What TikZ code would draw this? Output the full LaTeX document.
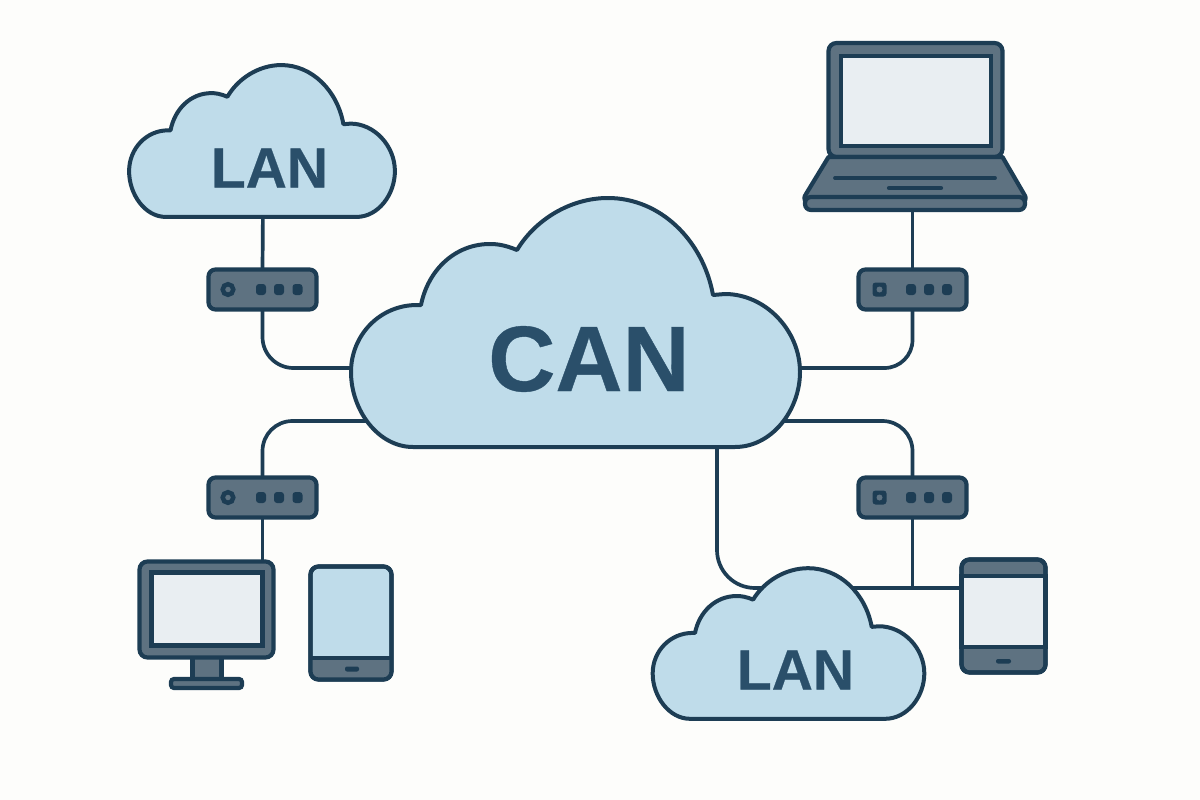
\documentclass[tikz,border=0pt]{standalone}
\usepackage{fontspec}
\setmainfont{Liberation Sans}[BoldFeatures={FakeBold=0.4}]
\usepackage{xcolor}
\definecolor{inkdark}{HTML}{1D3D54}
\definecolor{textblue}{HTML}{2A4F6A}
\definecolor{cloudblue}{HTML}{BFDCEA}
\definecolor{devgrey}{HTML}{5E7281}
\definecolor{screenlight}{HTML}{E9EEF2}
\definecolor{paper}{HTML}{FDFDFB}
\tikzset{
  wire/.style={draw=inkdark, line width=3.7pt},
  devicebox/.style={draw=inkdark, line width=4.2pt, fill=devgrey, rounded corners=8pt, inner sep=0pt, outer sep=0pt},
  screenbox/.style={draw=inkdark, line width=4.2pt, fill=screenlight, inner sep=0pt, outer sep=0pt},
  routerbox/.style={devicebox, rounded corners=7pt, minimum width=108pt, minimum height=40pt},
  portdot/.style={fill=inkdark, rounded corners=3pt},
  keyline/.style={draw=inkdark, line width=3.8pt, line cap=round},
  cloudshape/.pic={
    \draw[draw=inkdark, line width=4pt, fill=cloudblue, line join=round]
      (-162.5,124.5) -- (159.5,124.5)
      .. controls (196.5,124.5) and (224.5,87.5) .. (224.5,49.5)
      .. controls (224.5,7.5) and (189.5,-28.5) .. (149.5,-28.5)
      -- (137.5,-27.5)
      .. controls (127.5,-82.5) and (84.5,-124.5) .. (32.5,-124.5)
      .. controls (-5.5,-124.5) and (-40.5,-102.5) .. (-58.5,-72.5)
      .. controls (-70.5,-77.5) and (-78.5,-78.5) .. (-85.5,-78.5)
      .. controls (-120.5,-78.5) and (-147.5,-52.5) .. (-154.5,-17.5)
      -- (-158.5,-17.5)
      .. controls (-195.5,-17.5) and (-224.5,12.5) .. (-224.5,49.5)
      .. controls (-224.5,87.5) and (-197.5,124.5) .. (-162.5,124.5) -- cycle;
  }
}
\begin{document}
\begin{tikzpicture}[x=1pt, y=-1pt]
\fill[paper] (0,0) rectangle (1200,800);
\useasboundingbox (0,0) rectangle (1200,800);

% Routers
\foreach \name/\cx/\cy in {routera/262.5/289.5, routerb/912.5/289.5, routerc/262.5/497.5, routerd/912.5/497.5}
  \node[routerbox] (\name) at (\cx,\cy) {};
\foreach \cx/\cy in {262.5/289.5, 262.5/497.5} {
  \draw[draw=inkdark, line width=4.5pt, fill=devgrey] (\cx-34.5,\cy) circle (5.3);
  \foreach \dx in {-1.5,16.5,35}
    \fill[portdot] (\cx+\dx-5,\cy-5.5) rectangle (\cx+\dx+5,\cy+5.5);
}
\foreach \cx/\cy in {912.5/289.5, 912.5/497.5} {
  \fill[inkdark, rounded corners=3pt] (\cx-40,\cy-7) rectangle (\cx-26,\cy+7);
  \fill[devgrey] (\cx-33,\cy) circle (3);
  \foreach \dx in {-1.5,16.5,34.5}
    \fill[portdot] (\cx+\dx-5,\cy-5.5) rectangle (\cx+\dx+5,\cy+5.5);
}

% Laptop
\node[devicebox, minimum width=174pt, minimum height=114pt] (laptoplid) at (915.5,100) {};
\node[screenbox, minimum width=150pt, minimum height=90pt] (laptopscreen) at (916,101) {};
\draw[draw=inkdark, line width=4.2pt, fill=devgrey, line join=round]
  (laptoplid.south west) -- (806,194) .. controls (804,197) and (804,199) .. (805,201)
  -- (1025,201) .. controls (1026,199) and (1026,197) .. (1024,194) -- (laptoplid.south east) -- cycle;
\node[devicebox, rounded corners=6pt, minimum width=220pt, minimum height=13pt] (laptopbase) at (915,203.5) {};
\draw[keyline] (835,178) -- (995,178);
\draw[keyline, line width=4.2pt] (889,188) -- (941,188);

% Monitor and tablet on the left
\node[devicebox, minimum width=29pt, minimum height=22pt, rounded corners=0pt] (monitorneck) at (207,668) {};
\node[devicebox, rounded corners=3pt, minimum width=71pt, minimum height=9pt] (monitorfoot) at (206.5,683.5) {};
\node[devicebox, minimum width=134pt, minimum height=96pt] (monitor) at (206.5,609.5) {};
\node[screenbox, minimum width=111pt, minimum height=73pt] (monitorscreen) at (207,609) {};
\node[devicebox, fill=cloudblue, minimum width=81pt, minimum height=113pt] (tableta) at (351,623) {};
\begin{scope}
  \clip[rounded corners=7pt] (310.7,566.7) rectangle (391.3,679.3);
  \fill[devgrey] (310,658) rectangle (392,680);
\end{scope}
\draw[draw=inkdark, line width=4.2pt, rounded corners=8pt] (tableta.south west) rectangle (tableta.north east);
\draw[draw=inkdark, line width=4.2pt] (tableta.west |- 0,658) -- (tableta.east |- 0,658);
\fill[inkdark, rounded corners=2pt] (345,666.5) rectangle (359,671.5);

% Tablet on the right
\node[devicebox, minimum width=84pt, minimum height=113pt] (tabletb) at (1003.5,616) {};
\node[screenbox, minimum width=84pt, minimum height=71pt] (tabletscreen) at (1003.5,611.5) {};
\draw[draw=inkdark, line width=4.2pt, rounded corners=8pt] (tabletb.south west) rectangle (tabletb.north east);
\fill[inkdark, rounded corners=2pt] (996,659) rectangle (1011,663.5);

% Ends of the wires under the clouds
\coordinate (lanaout) at (263,205);
\coordinate (canwesta) at (365,368);
\coordinate (caneasta) at (785,368);
\coordinate (canwestb) at (380,421);
\coordinate (caneastb) at (770,421);
\coordinate (cansouth) at (717,440);
\coordinate (lanbwest) at (780,588);
\coordinate (lanbeast) at (850,588);

% Wires
\draw[wire] (lanaout) -- (routera.north);
\draw[wire, rounded corners=31pt] (routera.south) |- (canwesta);
\draw[wire] (routerb.north) -- (routerb.north |- laptopbase.south);
\draw[wire, rounded corners=28pt] (routerb.south) |- (caneasta);
\draw[wire, rounded corners=30pt] (routerc.north) |- (canwestb);
\draw[wire] (routerc.south) -- (routerc.south |- monitor.north);
\draw[wire, rounded corners=30pt] (routerd.north) |- (caneastb);
\draw[wire] (routerd.south) -- (routerd.south |- lanbeast);
\draw[wire] (lanbeast) -- (lanbeast -| tabletb.west);
\draw[wire, rounded corners=38pt] (cansouth) |- (lanbwest);

% Clouds
\pic[xscale=0.592, yscale=0.61] at (262,141) {cloudshape};
\pic at (575.5,322.5) {cloudshape};
\pic[scale=0.605] at (788.5,643.5) {cloudshape};
\node[text=textblue, inner sep=0pt] (lana) at (269.5,168) {\fontsize{57}{57}\selectfont\bfseries LAN};
\node[text=textblue, inner sep=0pt] (can) at (589,359) {\fontsize{93}{93}\selectfont\bfseries CAN};
\node[text=textblue, inner sep=0pt] (lanb) at (795.5,670) {\fontsize{57}{57}\selectfont\bfseries LAN};
\end{tikzpicture}
\end{document}
